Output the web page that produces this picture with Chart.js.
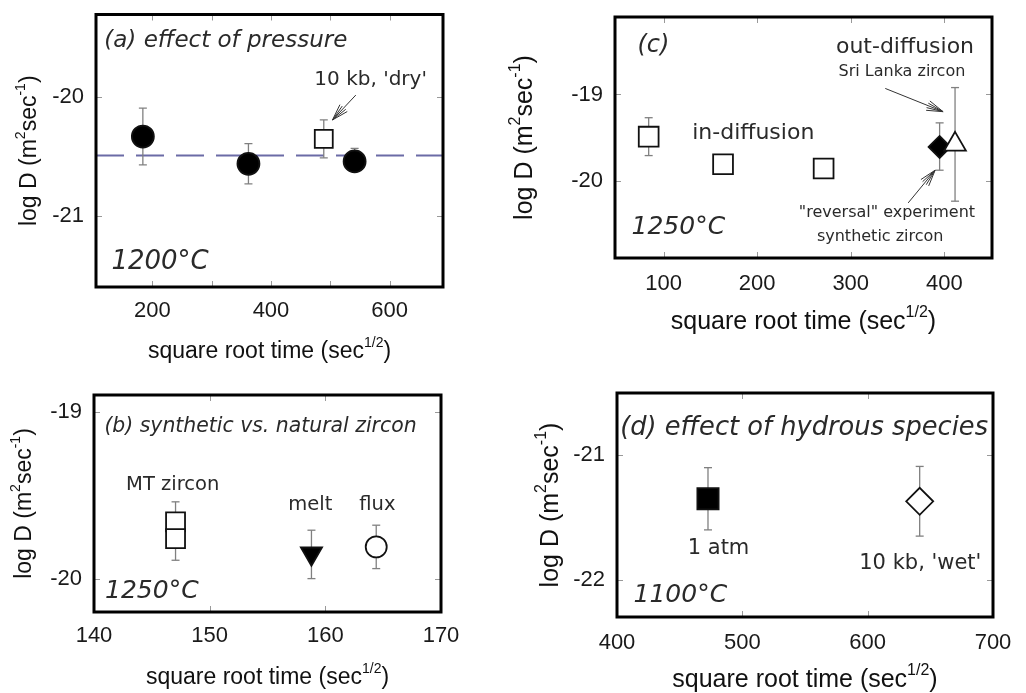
<!DOCTYPE html>
<html>
<head>
<meta charset="utf-8">
<script src="https://cdn.jsdelivr.net/npm/chart.js@4.4.1/dist/chart.umd.min.js"></script>
<style>
  body { margin: 0; background: #fff; width: 1026px; height: 693px; overflow: hidden; position: relative; }
  canvas { position: absolute; }
</style>
</head>
<body>
<canvas id="pa" width="500" height="365" style="left:0px;top:0px"></canvas>
<canvas id="pc" width="526" height="365" style="left:500px;top:0px"></canvas>
<canvas id="pb" width="500" height="328" style="left:0px;top:365px"></canvas>
<canvas id="pd" width="526" height="328" style="left:500px;top:365px"></canvas>
<script>
// ---- (a) effect of pressure, 1200 C ----
var aXRange = [105, 690];
var aYRange = [-21.6, -19.3];
var aXTicks = [200, 400, 600];
var aXMinor = [300, 500];
var aYTicks = [-20, -21];
var aAtmX = [184, 362, 541];
var aAtmY = [-20.33, -20.56, -20.54];
var aAtmLo = [-20.57, -20.73, -20.62];
var aAtmHi = [-20.09, -20.39, -20.43];
var aDryX = [489];
var aDryY = [-20.35];
var aDryLo = [-20.51];
var aDryHi = [-20.19];
var aMeanLogD = -20.49;

// ---- (b) synthetic vs natural zircon, 1250 C ----
var bXRange = [140, 170];
var bYRange = [-20.2, -18.9];
var bXTicks = [140, 150, 160, 170];
var bYTicks = [-19, -20];
var bMtX = [147.05, 147.05];
var bMtY = [-19.66, -19.76];
var bMtLo = [-19.78, -19.89];
var bMtHi = [-19.54, -19.63];
var bMeltX = [158.8];
var bMeltY = [-19.85];
var bMeltLo = [-20.0];
var bMeltHi = [-19.71];
var bFluxX = [164.4];
var bFluxY = [-19.81];
var bFluxLo = [-19.94];
var bFluxHi = [-19.68];

// ---- (c) in- and out-diffusion, 1250 C ----
var cXRange = [48, 451];
var cYRange = [-20.9, -18.1];
var cXTicks = [100, 200, 300, 400];
var cYTicks = [-19, -20];
var cInX = [84, 163.5, 271];
var cInY = [-19.49, -19.81, -19.86];
var cInLo = [-19.71, -19.92, -19.97];
var cInHi = [-19.27, -19.70, -19.75];
var cRevX = [395];
var cRevY = [-19.61];
var cRevLo = [-19.88];
var cRevHi = [-19.33];
var cOutX = [411.5];
var cOutY = [-19.58];
var cOutLo = [-20.24];
var cOutHi = [-18.92];

// ---- (d) effect of hydrous species, 1100 C ----
var dXRange = [400, 700];
var dYRange = [-22.3, -20.5];
var dXTicks = [400, 500, 600, 700];
var dYTicks = [-21, -22];
var dAtmX = [472.6];
var dAtmY = [-21.35];
var dAtmLo = [-21.6];
var dAtmHi = [-21.1];
var dWetX = [641.5];
var dWetY = [-21.37];
var dWetLo = [-21.65];
var dWetHi = [-21.09];

var TICK_FONT = "'Liberation Sans', Arial, sans-serif";
var NOTE_FONT = "'DejaVu Sans', sans-serif";

function pts(xs, ys) {
  return xs.map(function (x, i) { return { x: x, y: ys[i] }; });
}

function errorBars(xs, lo, hi) {
  return xs.map(function (x, i) {
    return {
      data: [{ x: x, y: lo[i] }, { x: x, y: hi[i] }],
      showLine: true,
      borderColor: "#808080",
      borderWidth: 1.3,
      pointStyle: "line",
      pointRadius: 4,
      pointBorderColor: "#808080",
      pointBorderWidth: 1.3,
      order: 2
    };
  });
}

function marker(xs, ys, style, r, fill, rot) {
  return {
    data: pts(xs, ys),
    pointStyle: style,
    pointRadius: r,
    pointBackgroundColor: fill,
    pointBorderColor: "#111",
    pointBorderWidth: 1.8,
    pointRotation: rot || 0,
    order: 0
  };
}

function scaleOpts(range, ticks, size, isX, pad) {
  return {
    type: "linear",
    min: range[0],
    max: range[1],
    grid: { display: false, drawTicks: false },
    border: { display: false },
    ticks: {
      font: { family: TICK_FONT, size: 22 },
      color: "#1a1a1a",
      padding: pad,
      callback: function (v) { return String(v); }
    },
    afterBuildTicks: function (s) {
      s.ticks = ticks.map(function (v) { return { value: v }; });
    },
    afterFit: function (s) {
      if (isX) s.height = size; else s.width = size;
      s.paddingTop = 0; s.paddingBottom = 0; s.paddingLeft = 0; s.paddingRight = 0;
    }
  };
}

// draws a string made of [text, isSuperscript] parts, centred on 0
function richText(ctx, parts, size, family) {
  var w = 0;
  parts.forEach(function (p) {
    ctx.font = (p[1] ? Math.round(size * 0.62) : size) + "px " + family;
    w += ctx.measureText(p[0]).width;
  });
  var x = -w / 2;
  parts.forEach(function (p) {
    ctx.font = (p[1] ? Math.round(size * 0.62) : size) + "px " + family;
    ctx.fillText(p[0], x, p[1] ? -size * 0.38 : 0);
    x += ctx.measureText(p[0]).width;
  });
}

function decor(spec) {
  return {
    id: "decor",
    afterDraw: function (chart) {
      var ctx = chart.ctx, a = chart.chartArea;
      var xs = chart.scales.x, ys = chart.scales.y;
      ctx.save();
      // inward tick marks on all four sides
      ctx.strokeStyle = "#999";
      ctx.lineWidth = 1;
      ctx.beginPath();
      spec.xTicks.concat(spec.xMinor || []).forEach(function (v) {
        var px = Math.round(xs.getPixelForValue(v)) + 0.5;
        ctx.moveTo(px, a.bottom); ctx.lineTo(px, a.bottom - 6);
        ctx.moveTo(px, a.top); ctx.lineTo(px, a.top + 6);
      });
      spec.yTicks.forEach(function (v) {
        var py = Math.round(ys.getPixelForValue(v)) + 0.5;
        ctx.moveTo(a.left, py); ctx.lineTo(a.left + 6, py);
        ctx.moveTo(a.right, py); ctx.lineTo(a.right - 6, py);
      });
      ctx.stroke();
      // frame
      ctx.strokeStyle = "#000";
      ctx.lineWidth = 3;
      ctx.strokeRect(a.left, a.top, a.right - a.left, a.bottom - a.top);
      // notes
      ctx.fillStyle = "#2a2a2a";
      ctx.textBaseline = "middle";
      spec.notes.forEach(function (n) {
        ctx.font = n.font;
        ctx.textAlign = n.align || "center";
        ctx.fillText(n.t, xs.getPixelForValue(n.x), ys.getPixelForValue(n.y));
      });
      // arrows
      ctx.strokeStyle = "#333";
      ctx.lineWidth = 1;
      (spec.arrows || []).forEach(function (ar) {
        var x1 = xs.getPixelForValue(ar[0]), y1 = ys.getPixelForValue(ar[1]);
        var x2 = xs.getPixelForValue(ar[2]), y2 = ys.getPixelForValue(ar[3]);
        var ang = Math.atan2(y2 - y1, x2 - x1);
        ctx.beginPath();
        ctx.moveTo(x1, y1); ctx.lineTo(x2, y2);
        [-0.3, -0.14, 0.14, 0.3].forEach(function (d) {
          ctx.moveTo(x2, y2);
          ctx.lineTo(x2 - 17 * Math.cos(ang + d), y2 - 17 * Math.sin(ang + d));
        });
        ctx.stroke();
      });
      // axis titles
      ctx.fillStyle = "#111";
      ctx.textAlign = "left";
      ctx.textBaseline = "middle";
      ctx.save();
      ctx.translate((a.left + a.right) / 2, a.bottom + spec.xTitleDy);
      richText(ctx, [["square root time (sec", 0], ["1/2", 1], [")", 0]], spec.titleSize, TICK_FONT);
      ctx.restore();
      ctx.save();
      ctx.translate(a.left - spec.yTitleDx, (a.top + a.bottom) / 2);
      ctx.rotate(-Math.PI / 2);
      richText(ctx, [["log D (m", 0], ["2", 1], ["sec", 0], ["-1", 1], [")", 0]], spec.titleSize, TICK_FONT);
      ctx.restore();
      ctx.restore();
    }
  };
}

function makePanel(id, datasets, xr, yr, xt, yt, box, spec) {
  return new Chart(document.getElementById(id), {
    type: "scatter",
    data: { datasets: datasets },
    options: {
      responsive: false,
      animation: false,
      events: [],
      layout: { padding: { left: 0, top: box.top, right: box.right, bottom: 0 } },
      scales: {
        x: scaleOpts(xr, xt, box.xh, true, box.xpad),
        y: scaleOpts(yr, yt, box.yw, false, 12)
      },
      plugins: { legend: { display: false }, tooltip: { enabled: false } }
    },
    plugins: [decor(spec)]
  });
}

// (a)
makePanel("pa",
  [
    marker(aAtmX, aAtmY, "circle", 11, "#000"),
    marker(aDryX, aDryY, "rect", 12.7, "#fff"),
    {
      data: [{ x: aXRange[0], y: aMeanLogD }, { x: aXRange[1], y: aMeanLogD }],
      showLine: true, borderColor: "#6b6ba6", borderWidth: 2, borderDash: [28, 12],
      pointRadius: 0, order: 3
    }
  ].concat(errorBars(aAtmX, aAtmLo, aAtmHi), errorBars(aDryX, aDryLo, aDryHi)),
  aXRange, aYRange, aXTicks, aYTicks,
  { top: 11, right: 57, xh: 78, yw: 96, xpad: 11 },
  {
    xTicks: aXTicks, xMinor: aXMinor, yTicks: aYTicks,
    xTitleDy: 65, yTitleDx: 66, titleSize: 23,
    notes: [
      { t: "(a) effect of pressure", x: 119, y: -19.52, align: "left", font: "italic 23px " + NOTE_FONT },
      { t: "10 kb, 'dry'", x: 568, y: -19.85, font: "20px " + NOTE_FONT },
      { t: "1200°C", x: 131, y: -21.39, align: "left", font: "italic 26px " + NOTE_FONT }
    ],
    arrows: [[543, -19.98, 503.7, -20.19]]
  });

// (c)
makePanel("pc",
  [
    marker(cOutX, cOutY, "triangle", 12.5, "#fff"),
    marker(cRevX, cRevY, "rectRot", 11, "#000"),
    marker(cInX, cInY, "rect", 14, "#fff")
  ].concat(errorBars(cInX, cInLo, cInHi), errorBars(cRevX, cRevLo, cRevHi), errorBars(cOutX, cOutLo, cOutHi)),
  cXRange, cYRange, cXTicks, cYTicks,
  { top: 17, right: 34, xh: 107, yw: 115, xpad: 13 },
  {
    xTicks: cXTicks, yTicks: cYTicks,
    xTitleDy: 64, yTitleDx: 90, titleSize: 25,
    notes: [
      { t: "(c)", x: 89, y: -18.43, font: "italic 24px " + NOTE_FONT },
      { t: "out-diffusion", x: 358, y: -18.45, font: "22px " + NOTE_FONT },
      { t: "Sri Lanka zircon", x: 354.7, y: -18.74, font: "16px " + NOTE_FONT },
      { t: "in-diffusion", x: 195.8, y: -19.45, font: "22px " + NOTE_FONT },
      { t: "1250°C", x: 115.7, y: -20.55, font: "italic 25px " + NOTE_FONT },
      { t: "\"reversal\" experiment", x: 338.7, y: -20.37, font: "16px " + NOTE_FONT },
      { t: "synthetic zircon", x: 331.5, y: -20.65, font: "16px " + NOTE_FONT }
    ],
    arrows: [[336.9, -18.93, 398.7, -19.2], [361.4, -20.26, 390.2, -19.88]]
  });

// (b)
makePanel("pb",
  [
    marker(bMtX, bMtY, "rect", 13.4, "#fff"),
    marker(bMeltX, bMeltY, "triangle", 12.2, "#000", 180),
    marker(bFluxX, bFluxY, "circle", 10.5, "#fff")
  ].concat(errorBars(bMtX, bMtLo, bMtHi), errorBars(bMeltX, bMeltLo, bMeltHi), errorBars(bFluxX, bFluxLo, bFluxHi)),
  bXRange, bYRange, bXTicks, bYTicks,
  { top: 30, right: 59, xh: 81, yw: 94, xpad: 11 },
  {
    xTicks: bXTicks, yTicks: bYTicks,
    xTitleDy: 66, yTitleDx: 69, titleSize: 23,
    notes: [
      { t: "(b) synthetic vs. natural zircon", x: 140.9, y: -19.09, align: "left", font: "italic 20.4px " + NOTE_FONT },
      { t: "MT zircon", x: 146.8, y: -19.44, font: "19.5px " + NOTE_FONT },
      { t: "melt", x: 158.7, y: -19.56, font: "19.5px " + NOTE_FONT },
      { t: "flux", x: 164.5, y: -19.56, font: "19.5px " + NOTE_FONT },
      { t: "1250°C", x: 145, y: -20.08, font: "italic 25px " + NOTE_FONT }
    ]
  });

// (d)
makePanel("pd",
  [
    marker(dAtmX, dAtmY, "rect", 15, "#000"),
    marker(dWetX, dWetY, "rectRot", 13.5, "#fff")
  ].concat(errorBars(dAtmX, dAtmLo, dAtmHi), errorBars(dWetX, dWetLo, dWetHi)),
  dXRange, dYRange, dXTicks, dYTicks,
  { top: 28, right: 33, xh: 76, yw: 117, xpad: 13 },
  {
    xTicks: dXTicks, yTicks: dYTicks,
    xTitleDy: 63, yTitleDx: 66, titleSize: 25,
    notes: [
      { t: "(d) effect of hydrous species", x: 402.6, y: -20.78, align: "left", font: "italic 25.7px " + NOTE_FONT },
      { t: "1 atm", x: 481, y: -21.75, font: "21px " + NOTE_FONT },
      { t: "10 kb, 'wet'", x: 642, y: -21.87, font: "21px " + NOTE_FONT },
      { t: "1100°C", x: 450.5, y: -22.13, font: "italic 25px " + NOTE_FONT }
    ]
  });
</script>
</body>
</html>
